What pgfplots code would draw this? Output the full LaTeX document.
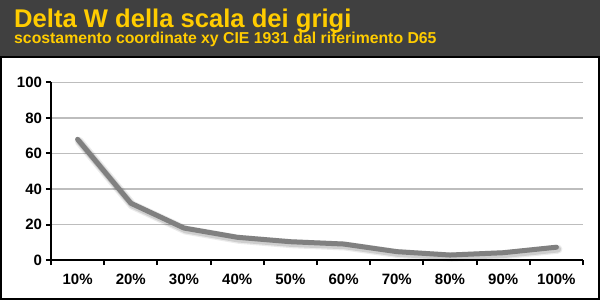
\documentclass[border=0pt]{standalone}
\usepackage{fontspec}
\setmainfont{Liberation Sans}
\usepackage{pgfplots}
\pgfplotsset{compat=1.18}
\definecolor{hdr}{HTML}{404040}
\definecolor{ttl}{HTML}{FFCC00}
\definecolor{lin}{HTML}{808080}
\definecolor{grd}{HTML}{BDBDBD}
\begin{document}
\begin{tikzpicture}[x=1pt,y=1pt]
\fill[white] (0,0) rectangle (600,300);
\fill[hdr] (0,243) rectangle (600,300);
\draw[black,line width=2pt] (1,1) rectangle (599,242.5);
\node[anchor=base west,text=ttl,font=\bfseries\fontsize{25.6}{30}\selectfont,inner sep=0pt] at (14,272) {Delta W della scala dei grigi};
\node[anchor=base west,text=ttl,font=\bfseries\fontsize{15.8}{19}\selectfont,inner sep=0pt] at (14,256) {scostamento coordinate xy CIE 1931 dal riferimento D65};
\begin{axis}[at={(51pt,40pt)},anchor=south west,
  scale only axis,width=532pt,height=177.5pt,
  xmin=-0.5,xmax=9.5,ymin=0,ymax=100,
  axis x line*=bottom,axis y line*=left,
  x axis line style={-,line width=2pt},
  y axis line style={-,line width=2pt},
  xtick={0,...,9},
  xticklabels={10\%,20\%,30\%,40\%,50\%,60\%,70\%,80\%,90\%,100\%},
  major x tick style={draw=none},
  minor xtick={-0.5,0.5,...,9.5},
  minor x tick style={line width=2pt,black},
  minor tick length=5pt,
  ytick={0,20,...,100},
  major y tick style={line width=2pt,black},
  major tick length=5pt,
  tick align=outside,
  ymajorgrids,
  grid style={grd,line width=1.2pt},
  /pgf/number format/assume math mode=true,
  ticklabel style={font=\bfseries\fontsize{15}{17}\selectfont},
  xticklabel style={yshift=-5pt},
  yticklabel style={xshift=-0.5pt},
  clip=false,
]
\addplot[draw=black,opacity=0.08,line width=9pt,line join=round,line cap=round,shift={(1.5pt,-2pt)}] coordinates {(0,68) (1,32) (2,18) (3,12.8) (4,10.3) (5,9) (6,4.7) (7,2.8) (8,4.1) (9,7.2)};
\addplot[draw=black,opacity=0.12,line width=6.5pt,line join=round,line cap=round,shift={(1.5pt,-2pt)}] coordinates {(0,68) (1,32) (2,18) (3,12.8) (4,10.3) (5,9) (6,4.7) (7,2.8) (8,4.1) (9,7.2)};
\addplot[draw=lin,line width=5pt,line join=round,line cap=round] coordinates {(0,68) (1,32) (2,18) (3,12.8) (4,10.3) (5,9) (6,4.7) (7,2.8) (8,4.1) (9,7.2)};
\end{axis}
\end{tikzpicture}
\end{document}
